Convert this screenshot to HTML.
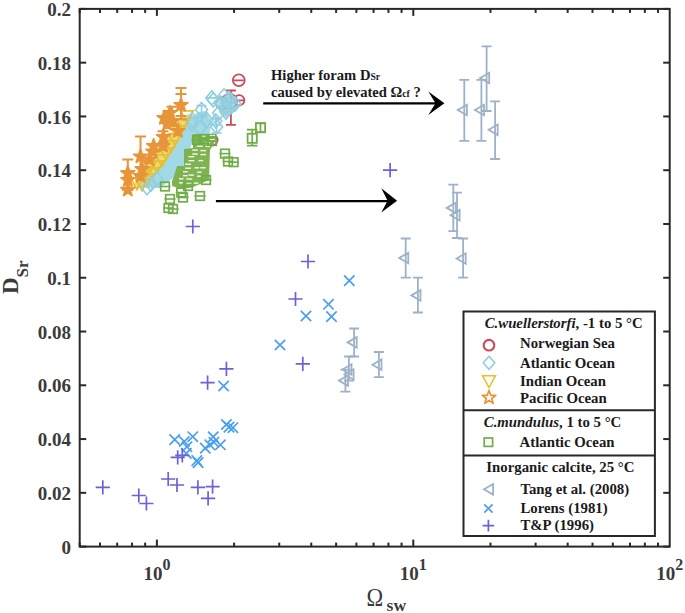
<!DOCTYPE html>
<html><head><meta charset="utf-8"><style>
html,body{margin:0;padding:0;background:#fff;}
svg{display:block;}
text{font-family:"Liberation Serif",serif;font-weight:bold;}
.tk{font-size:19px;fill:#3a3a3a;}
.al{fill:#3a3a3a;}
.an{font-size:14.6px;fill:#1a1a1a;}
.lg{font-size:14.8px;fill:#1a1a1a;}
</style></head><body>
<svg width="685" height="613" viewBox="0 0 685 613">
<rect x="79.7" y="8.9" width="590.0" height="537.7" fill="none" stroke="#282828" stroke-width="2"/>
<line x1="79.7" y1="546.60" x2="86.2" y2="546.60" stroke="#282828" stroke-width="2"/>
<line x1="669.7" y1="546.60" x2="663.2" y2="546.60" stroke="#282828" stroke-width="2"/>
<text x="71.1" y="553.80" text-anchor="end" class="tk">0</text>
<line x1="79.7" y1="492.83" x2="86.2" y2="492.83" stroke="#282828" stroke-width="2"/>
<line x1="669.7" y1="492.83" x2="663.2" y2="492.83" stroke="#282828" stroke-width="2"/>
<text x="71.1" y="500.03" text-anchor="end" class="tk">0.02</text>
<line x1="79.7" y1="439.06" x2="86.2" y2="439.06" stroke="#282828" stroke-width="2"/>
<line x1="669.7" y1="439.06" x2="663.2" y2="439.06" stroke="#282828" stroke-width="2"/>
<text x="71.1" y="446.26" text-anchor="end" class="tk">0.04</text>
<line x1="79.7" y1="385.29" x2="86.2" y2="385.29" stroke="#282828" stroke-width="2"/>
<line x1="669.7" y1="385.29" x2="663.2" y2="385.29" stroke="#282828" stroke-width="2"/>
<text x="71.1" y="392.49" text-anchor="end" class="tk">0.06</text>
<line x1="79.7" y1="331.52" x2="86.2" y2="331.52" stroke="#282828" stroke-width="2"/>
<line x1="669.7" y1="331.52" x2="663.2" y2="331.52" stroke="#282828" stroke-width="2"/>
<text x="71.1" y="338.72" text-anchor="end" class="tk">0.08</text>
<line x1="79.7" y1="277.75" x2="86.2" y2="277.75" stroke="#282828" stroke-width="2"/>
<line x1="669.7" y1="277.75" x2="663.2" y2="277.75" stroke="#282828" stroke-width="2"/>
<text x="71.1" y="284.95" text-anchor="end" class="tk">0.1</text>
<line x1="79.7" y1="223.98" x2="86.2" y2="223.98" stroke="#282828" stroke-width="2"/>
<line x1="669.7" y1="223.98" x2="663.2" y2="223.98" stroke="#282828" stroke-width="2"/>
<text x="71.1" y="231.18" text-anchor="end" class="tk">0.12</text>
<line x1="79.7" y1="170.21" x2="86.2" y2="170.21" stroke="#282828" stroke-width="2"/>
<line x1="669.7" y1="170.21" x2="663.2" y2="170.21" stroke="#282828" stroke-width="2"/>
<text x="71.1" y="177.41" text-anchor="end" class="tk">0.14</text>
<line x1="79.7" y1="116.44" x2="86.2" y2="116.44" stroke="#282828" stroke-width="2"/>
<line x1="669.7" y1="116.44" x2="663.2" y2="116.44" stroke="#282828" stroke-width="2"/>
<text x="71.1" y="123.64" text-anchor="end" class="tk">0.16</text>
<line x1="79.7" y1="62.67" x2="86.2" y2="62.67" stroke="#282828" stroke-width="2"/>
<line x1="669.7" y1="62.67" x2="663.2" y2="62.67" stroke="#282828" stroke-width="2"/>
<text x="71.1" y="69.87" text-anchor="end" class="tk">0.18</text>
<line x1="79.7" y1="8.90" x2="86.2" y2="8.90" stroke="#282828" stroke-width="2"/>
<line x1="669.7" y1="8.90" x2="663.2" y2="8.90" stroke="#282828" stroke-width="2"/>
<text x="71.1" y="16.10" text-anchor="end" class="tk">0.2</text>
<line x1="79.70" y1="546.6" x2="79.70" y2="542.6" stroke="#282828" stroke-width="2"/>
<line x1="79.70" y1="8.9" x2="79.70" y2="12.9" stroke="#282828" stroke-width="2"/>
<line x1="100.00" y1="546.6" x2="100.00" y2="542.6" stroke="#282828" stroke-width="2"/>
<line x1="100.00" y1="8.9" x2="100.00" y2="12.9" stroke="#282828" stroke-width="2"/>
<line x1="117.17" y1="546.6" x2="117.17" y2="542.6" stroke="#282828" stroke-width="2"/>
<line x1="117.17" y1="8.9" x2="117.17" y2="12.9" stroke="#282828" stroke-width="2"/>
<line x1="132.04" y1="546.6" x2="132.04" y2="542.6" stroke="#282828" stroke-width="2"/>
<line x1="132.04" y1="8.9" x2="132.04" y2="12.9" stroke="#282828" stroke-width="2"/>
<line x1="145.15" y1="546.6" x2="145.15" y2="542.6" stroke="#282828" stroke-width="2"/>
<line x1="145.15" y1="8.9" x2="145.15" y2="12.9" stroke="#282828" stroke-width="2"/>
<line x1="156.89" y1="546.6" x2="156.89" y2="539.6" stroke="#282828" stroke-width="2"/>
<line x1="156.89" y1="8.9" x2="156.89" y2="15.9" stroke="#282828" stroke-width="2"/>
<line x1="234.07" y1="546.6" x2="234.07" y2="542.6" stroke="#282828" stroke-width="2"/>
<line x1="234.07" y1="8.9" x2="234.07" y2="12.9" stroke="#282828" stroke-width="2"/>
<line x1="279.22" y1="546.6" x2="279.22" y2="542.6" stroke="#282828" stroke-width="2"/>
<line x1="279.22" y1="8.9" x2="279.22" y2="12.9" stroke="#282828" stroke-width="2"/>
<line x1="311.26" y1="546.6" x2="311.26" y2="542.6" stroke="#282828" stroke-width="2"/>
<line x1="311.26" y1="8.9" x2="311.26" y2="12.9" stroke="#282828" stroke-width="2"/>
<line x1="336.11" y1="546.6" x2="336.11" y2="542.6" stroke="#282828" stroke-width="2"/>
<line x1="336.11" y1="8.9" x2="336.11" y2="12.9" stroke="#282828" stroke-width="2"/>
<line x1="356.41" y1="546.6" x2="356.41" y2="542.6" stroke="#282828" stroke-width="2"/>
<line x1="356.41" y1="8.9" x2="356.41" y2="12.9" stroke="#282828" stroke-width="2"/>
<line x1="373.58" y1="546.6" x2="373.58" y2="542.6" stroke="#282828" stroke-width="2"/>
<line x1="373.58" y1="8.9" x2="373.58" y2="12.9" stroke="#282828" stroke-width="2"/>
<line x1="388.44" y1="546.6" x2="388.44" y2="542.6" stroke="#282828" stroke-width="2"/>
<line x1="388.44" y1="8.9" x2="388.44" y2="12.9" stroke="#282828" stroke-width="2"/>
<line x1="401.56" y1="546.6" x2="401.56" y2="542.6" stroke="#282828" stroke-width="2"/>
<line x1="401.56" y1="8.9" x2="401.56" y2="12.9" stroke="#282828" stroke-width="2"/>
<line x1="413.29" y1="546.6" x2="413.29" y2="539.6" stroke="#282828" stroke-width="2"/>
<line x1="413.29" y1="8.9" x2="413.29" y2="15.9" stroke="#282828" stroke-width="2"/>
<line x1="490.48" y1="546.6" x2="490.48" y2="542.6" stroke="#282828" stroke-width="2"/>
<line x1="490.48" y1="8.9" x2="490.48" y2="12.9" stroke="#282828" stroke-width="2"/>
<line x1="535.63" y1="546.6" x2="535.63" y2="542.6" stroke="#282828" stroke-width="2"/>
<line x1="535.63" y1="8.9" x2="535.63" y2="12.9" stroke="#282828" stroke-width="2"/>
<line x1="567.67" y1="546.6" x2="567.67" y2="542.6" stroke="#282828" stroke-width="2"/>
<line x1="567.67" y1="8.9" x2="567.67" y2="12.9" stroke="#282828" stroke-width="2"/>
<line x1="592.51" y1="546.6" x2="592.51" y2="542.6" stroke="#282828" stroke-width="2"/>
<line x1="592.51" y1="8.9" x2="592.51" y2="12.9" stroke="#282828" stroke-width="2"/>
<line x1="612.82" y1="546.6" x2="612.82" y2="542.6" stroke="#282828" stroke-width="2"/>
<line x1="612.82" y1="8.9" x2="612.82" y2="12.9" stroke="#282828" stroke-width="2"/>
<line x1="629.98" y1="546.6" x2="629.98" y2="542.6" stroke="#282828" stroke-width="2"/>
<line x1="629.98" y1="8.9" x2="629.98" y2="12.9" stroke="#282828" stroke-width="2"/>
<line x1="644.85" y1="546.6" x2="644.85" y2="542.6" stroke="#282828" stroke-width="2"/>
<line x1="644.85" y1="8.9" x2="644.85" y2="12.9" stroke="#282828" stroke-width="2"/>
<line x1="657.97" y1="546.6" x2="657.97" y2="542.6" stroke="#282828" stroke-width="2"/>
<line x1="657.97" y1="8.9" x2="657.97" y2="12.9" stroke="#282828" stroke-width="2"/>
<text x="143.39" y="579.5" class="tk">10<tspan font-size="16" dy="-9.5">0</tspan></text>
<text x="399.79" y="579.5" class="tk">10<tspan font-size="16" dy="-9.5">1</tspan></text>
<text x="656.20" y="579.5" class="tk">10<tspan font-size="16" dy="-9.5">2</tspan></text>
<text transform="translate(18.2,294) rotate(-90)" class="al" font-size="23">D<tspan font-size="17" dy="10">Sr</tspan></text>
<text transform="translate(366.6,605.8) scale(0.88,1)" class="al" font-size="25.5" style="font-weight:normal">Ω</text>
<text x="386.6" y="610.7" class="al" font-size="17.6">sw</text>
<circle cx="238.8" cy="80.3" r="5.9" stroke="#cc4a5a" stroke-width="1.8" fill="none"/>
<circle cx="222.1" cy="103.3" r="6" stroke="#cc4a5a" stroke-width="1.8" fill="none"/>
<circle cx="229.5" cy="101.3" r="7.5" stroke="#cc4a5a" stroke-width="1.8" fill="none"/>
<circle cx="239.2" cy="100.3" r="5.2" stroke="#cc4a5a" stroke-width="1.8" fill="none"/>
<circle cx="212.0" cy="140.0" r="5.6" stroke="#cc4a5a" stroke-width="1.8" fill="none"/>
<circle cx="189.6" cy="170.0" r="5.6" stroke="#cc4a5a" stroke-width="1.8" fill="none"/>
<path d="M230.9 90.5V124.8M225.9 90.5H235.9M225.9 124.8H235.9" stroke="#cc4a5a" stroke-width="1.8" fill="none"/>
<path d="M238.8 80.3V80.3M233.8 80.3H243.8M233.8 80.3H243.8" stroke="#cc4a5a" stroke-width="1.8" fill="none"/>
<path d="M239.2 100.3V100.3M234.2 100.3H244.2M234.2 100.3H244.2" stroke="#cc4a5a" stroke-width="1.8" fill="none"/>
<polygon points="189,114 188.5,120 184,130 181,137 173.7,144.5 170.4,151 166.3,158 161,164.4 157,169 152.3,174 149,182 145,188 134,188 136,180 142,170 150,160 157,152 163,144 170,134 178,124 183,116" fill="#eed873"/>
<polygon points="198,112 206,111 211,121 210,134 194,137 190,149 184,166 177,175 168,182 160,188 145,188 149,182 152.3,174 157,169 161,164.4 166.3,158 170.4,151 173.7,144.5 181,137 184,130 188.5,120" fill="#a2d9e7"/>
<polygon points="229,90 238,100 234,111 227,118 219,112 218,103" fill="#8fcfe0" opacity="0.8"/>
<path d="M211.8 90.7L217.8 97.9L211.8 105.1L205.8 97.9Z" stroke="#8fcfe0" stroke-width="1.6" fill="none"/>
<path d="M229.5 92.2L235.5 99.4L229.5 106.6L223.5 99.4Z" stroke="#8fcfe0" stroke-width="1.6" fill="none"/>
<path d="M226.5 100.0L232.5 107.2L226.5 114.4L220.5 107.2Z" stroke="#8fcfe0" stroke-width="1.6" fill="none"/>
<path d="M232.4 98.0L238.4 105.2L232.4 112.4L226.4 105.2Z" stroke="#8fcfe0" stroke-width="1.6" fill="none"/>
<path d="M218.7 105.8L224.7 113.0L218.7 120.2L212.7 113.0Z" stroke="#8fcfe0" stroke-width="1.6" fill="none"/>
<path d="M215.8 113.7L221.8 120.9L215.8 128.1L209.8 120.9Z" stroke="#8fcfe0" stroke-width="1.6" fill="none"/>
<path d="M224.0 88.8L230.0 96.0L224.0 103.2L218.0 96.0Z" stroke="#8fcfe0" stroke-width="1.6" fill="none"/>
<path d="M235.0 96.8L241.0 104.0L235.0 111.2L229.0 104.0Z" stroke="#8fcfe0" stroke-width="1.6" fill="none"/>
<path d="M201.5 102.5L207.5 109.7L201.5 116.9L195.5 109.7Z" stroke="#8fcfe0" stroke-width="1.6" fill="none"/>
<path d="M213.3 92.7L219.3 99.9L213.3 107.1L207.3 99.9Z" stroke="#8fcfe0" stroke-width="1.6" fill="none"/>
<path d="M220.7 96.0L226.7 103.2L220.7 110.4L214.7 103.2Z" stroke="#8fcfe0" stroke-width="1.6" fill="none"/>
<path d="M216.6 119.6L222.6 126.8L216.6 134.0L210.6 126.8Z" stroke="#8fcfe0" stroke-width="1.6" fill="none"/>
<path d="M207.0 112.8L213.0 120.0L207.0 127.2L201.0 120.0Z" stroke="#8fcfe0" stroke-width="1.6" fill="none"/>
<path d="M200.0 120.8L206.0 128.0L200.0 135.2L194.0 128.0Z" stroke="#8fcfe0" stroke-width="1.6" fill="none"/>
<path d="M192.0 116.8L198.0 124.0L192.0 131.2L186.0 124.0Z" stroke="#8fcfe0" stroke-width="1.6" fill="none"/>
<path d="M226.0 104.8L232.0 112.0L226.0 119.2L220.0 112.0Z" stroke="#8fcfe0" stroke-width="1.6" fill="none"/>
<path d="M201.5 105.6V117.0M196.5 105.6H206.5M196.5 117.0H206.5" stroke="#8fcfe0" stroke-width="1.6" fill="none"/>
<path d="M216.6 118.7V133.0M211.6 118.7H221.6M211.6 133.0H221.6" stroke="#8fcfe0" stroke-width="1.6" fill="none"/>
<path d="M215.8 118.0V125.0M210.8 118.0H220.8M210.8 125.0H220.8" stroke="#8fcfe0" stroke-width="1.6" fill="none"/>
<path d="M211.8 97.9V97.9M206.8 97.9H216.8M206.8 97.9H216.8" stroke="#8fcfe0" stroke-width="1.6" fill="none"/>
<path d="M226.5 104.0V112.0M221.5 104.0H231.5M221.5 112.0H231.5" stroke="#8fcfe0" stroke-width="1.6" fill="none"/>
<path d="M180.6 110.8H193.4L187.0 122.6Z" stroke="#e6c02e" stroke-width="1.8" fill="none"/>
<path d="M176.6 118.8H189.4L183.0 130.6Z" stroke="#e6c02e" stroke-width="1.8" fill="none"/>
<path d="M172.6 125.8H185.4L179.0 137.6Z" stroke="#e6c02e" stroke-width="1.8" fill="none"/>
<path d="M168.6 133.8H181.4L175.0 145.6Z" stroke="#e6c02e" stroke-width="1.8" fill="none"/>
<path d="M164.6 140.8H177.4L171.0 152.6Z" stroke="#e6c02e" stroke-width="1.8" fill="none"/>
<path d="M159.6 147.8H172.4L166.0 159.6Z" stroke="#e6c02e" stroke-width="1.8" fill="none"/>
<path d="M155.6 154.8H168.4L162.0 166.6Z" stroke="#e6c02e" stroke-width="1.8" fill="none"/>
<path d="M150.6 160.8H163.4L157.0 172.6Z" stroke="#e6c02e" stroke-width="1.8" fill="none"/>
<path d="M145.6 167.8H158.4L152.0 179.6Z" stroke="#e6c02e" stroke-width="1.8" fill="none"/>
<path d="M140.6 173.8H153.4L147.0 185.6Z" stroke="#e6c02e" stroke-width="1.8" fill="none"/>
<path d="M135.6 178.8H148.4L142.0 190.6Z" stroke="#e6c02e" stroke-width="1.8" fill="none"/>
<path d="M130.6 177.8H143.4L137.0 189.6Z" stroke="#e6c02e" stroke-width="1.8" fill="none"/>
<path d="M143.6 160.8H156.4L150.0 172.6Z" stroke="#e6c02e" stroke-width="1.8" fill="none"/>
<path d="M139.6 166.8H152.4L146.0 178.6Z" stroke="#e6c02e" stroke-width="1.8" fill="none"/>
<path d="M151.0 176.8L157.0 184.0L151.0 191.2L145.0 184.0Z" stroke="#8fcfe0" stroke-width="1.6" fill="none"/>
<path d="M147.0 180.3L153.0 187.5L147.0 194.7L141.0 187.5Z" stroke="#8fcfe0" stroke-width="1.6" fill="none"/>
<path d="M157.0 171.8L163.0 179.0L157.0 186.2L151.0 179.0Z" stroke="#8fcfe0" stroke-width="1.6" fill="none"/>
<path d="M192.0 112.8L198.0 120.0L192.0 127.2L186.0 120.0Z" stroke="#8fcfe0" stroke-width="1.6" fill="none"/>
<path d="M181.0 88.0V116.0M175.5 88.0H186.5M175.5 116.0H186.5" stroke="#e8953a" stroke-width="2" fill="none"/>
<path d="M181.0 94.0V119.5M175.5 94.0H186.5M175.5 119.5H186.5" stroke="#e8953a" stroke-width="2" fill="none"/>
<path d="M172.0 106.7V126.0M166.5 106.7H177.5M166.5 126.0H177.5" stroke="#e8953a" stroke-width="2" fill="none"/>
<path d="M163.0 131.2V143.0M157.5 131.2H168.5M157.5 143.0H168.5" stroke="#e8953a" stroke-width="2" fill="none"/>
<path d="M140.5 136.5V176.0M135.0 136.5H146.0M135.0 176.0H146.0" stroke="#e8953a" stroke-width="2" fill="none"/>
<path d="M127.8 159.5V190.0M122.3 159.5H133.3M122.3 190.0H133.3" stroke="#e8953a" stroke-width="2" fill="none"/>
<polygon points="181.0,97.8 182.7,102.7 187.8,102.8 183.7,105.9 185.2,110.8 181.0,107.9 176.8,110.8 178.3,105.9 174.2,102.8 179.3,102.7" stroke="#e8953a" stroke-width="1.8" fill="#e8953a" stroke-linejoin="round"/>
<polygon points="164.0,110.8 165.7,115.7 170.8,115.8 166.7,118.9 168.2,123.8 164.0,120.9 159.8,123.8 161.3,118.9 157.2,115.8 162.3,115.7" stroke="#e8953a" stroke-width="1.8" fill="#e8953a" stroke-linejoin="round"/>
<polygon points="170.0,105.8 171.7,110.7 176.8,110.8 172.7,113.9 174.2,118.8 170.0,115.9 165.8,118.8 167.3,113.9 163.2,110.8 168.3,110.7" stroke="#e8953a" stroke-width="1.8" fill="#e8953a" stroke-linejoin="round"/>
<polygon points="173.0,113.8 174.7,118.7 179.8,118.8 175.7,121.9 177.2,126.8 173.0,123.9 168.8,126.8 170.3,121.9 166.2,118.8 171.3,118.7" stroke="#e8953a" stroke-width="1.8" fill="#e8953a" stroke-linejoin="round"/>
<polygon points="167.0,116.8 168.7,121.7 173.8,121.8 169.7,124.9 171.2,129.8 167.0,126.9 162.8,129.8 164.3,124.9 160.2,121.8 165.3,121.7" stroke="#e8953a" stroke-width="1.8" fill="#e8953a" stroke-linejoin="round"/>
<polygon points="178.0,123.8 179.7,128.7 184.8,128.8 180.7,131.9 182.2,136.8 178.0,133.9 173.8,136.8 175.3,131.9 171.2,128.8 176.3,128.7" stroke="#e8953a" stroke-width="1.8" fill="#e8953a" stroke-linejoin="round"/>
<polygon points="163.4,129.8 165.1,134.7 170.2,134.8 166.1,137.9 167.6,142.8 163.4,139.9 159.2,142.8 160.7,137.9 156.6,134.8 161.7,134.7" stroke="#e8953a" stroke-width="1.8" fill="#e8953a" stroke-linejoin="round"/>
<polygon points="163.0,138.8 164.7,143.7 169.8,143.8 165.7,146.9 167.2,151.8 163.0,148.9 158.8,151.8 160.3,146.9 156.2,143.8 161.3,143.7" stroke="#e8953a" stroke-width="1.8" fill="#e8953a" stroke-linejoin="round"/>
<polygon points="153.6,138.8 155.3,143.7 160.4,143.8 156.3,146.9 157.8,151.8 153.6,148.9 149.4,151.8 150.9,146.9 146.8,143.8 151.9,143.7" stroke="#e8953a" stroke-width="1.8" fill="#e8953a" stroke-linejoin="round"/>
<polygon points="152.8,144.4 154.5,149.3 159.6,149.4 155.5,152.5 157.0,157.4 152.8,154.5 148.6,157.4 150.1,152.5 146.0,149.4 151.1,149.3" stroke="#e8953a" stroke-width="1.8" fill="#e8953a" stroke-linejoin="round"/>
<polygon points="140.5,149.3 142.2,154.2 147.3,154.3 143.2,157.4 144.7,162.3 140.5,159.4 136.3,162.3 137.8,157.4 133.7,154.3 138.8,154.2" stroke="#e8953a" stroke-width="1.8" fill="#e8953a" stroke-linejoin="round"/>
<polygon points="149.4,152.3 151.1,157.2 156.2,157.3 152.1,160.4 153.6,165.3 149.4,162.4 145.2,165.3 146.7,160.4 142.6,157.3 147.7,157.2" stroke="#e8953a" stroke-width="1.8" fill="#e8953a" stroke-linejoin="round"/>
<polygon points="127.8,166.0 129.5,170.9 134.6,171.0 130.5,174.1 132.0,179.0 127.8,176.1 123.6,179.0 125.1,174.1 121.0,171.0 126.1,170.9" stroke="#e8953a" stroke-width="1.8" fill="#e8953a" stroke-linejoin="round"/>
<polygon points="127.8,172.8 129.5,177.7 134.6,177.8 130.5,180.9 132.0,185.8 127.8,182.9 123.6,185.8 125.1,180.9 121.0,177.8 126.1,177.7" stroke="#e8953a" stroke-width="1.8" fill="#e8953a" stroke-linejoin="round"/>
<polygon points="127.8,182.6 129.5,187.5 134.6,187.6 130.5,190.7 132.0,195.6 127.8,192.7 123.6,195.6 125.1,190.7 121.0,187.6 126.1,187.5" stroke="#e8953a" stroke-width="1.8" fill="#e8953a" stroke-linejoin="round"/>
<polygon points="140.5,168.9 142.2,173.8 147.3,173.9 143.2,177.0 144.7,181.9 140.5,179.0 136.3,181.9 137.8,177.0 133.7,173.9 138.8,173.8" stroke="#e8953a" stroke-width="1.8" fill="#e8953a" stroke-linejoin="round"/>
<polygon points="142.0,161.8 143.7,166.7 148.8,166.8 144.7,169.9 146.2,174.8 142.0,171.9 137.8,174.8 139.3,169.9 135.2,166.8 140.3,166.7" stroke="#e8953a" stroke-width="1.8" fill="#e8953a" stroke-linejoin="round"/>
<polygon points="193,134 216,134 217,138 210,150 209,180 198,185 190,188 178,188 172,186 172,181 174,176 177,166 184,166 184,149 193,148" fill="#7db451"/>
<rect x="199.9" y="135.3" width="5.4" height="1.4" fill="#fff" opacity="0.9"/>
<rect x="209.7" y="135.0" width="5.3" height="1.4" fill="#fff" opacity="0.9"/>
<rect x="209.7" y="139.0" width="5.3" height="1.4" fill="#fff" opacity="0.9"/>
<rect x="196.7" y="145.6" width="6.0" height="1.4" fill="#fff" opacity="0.9"/>
<rect x="205.6" y="141.7" width="4.6" height="1.4" fill="#fff" opacity="0.9"/>
<rect x="205.6" y="145.7" width="4.6" height="1.4" fill="#fff" opacity="0.9"/>
<rect x="192.2" y="149.4" width="5.6" height="1.4" fill="#fff" opacity="0.9"/>
<rect x="192.2" y="153.4" width="5.6" height="1.4" fill="#fff" opacity="0.9"/>
<rect x="200.4" y="149.9" width="5.6" height="1.4" fill="#fff" opacity="0.9"/>
<rect x="200.4" y="153.9" width="5.6" height="1.4" fill="#fff" opacity="0.9"/>
<rect x="188.5" y="156.0" width="5.9" height="1.4" fill="#fff" opacity="0.9"/>
<rect x="188.5" y="160.0" width="5.9" height="1.4" fill="#fff" opacity="0.9"/>
<rect x="198.3" y="159.9" width="4.9" height="1.4" fill="#fff" opacity="0.9"/>
<rect x="185.1" y="163.5" width="5.9" height="1.4" fill="#fff" opacity="0.9"/>
<rect x="185.1" y="167.5" width="5.9" height="1.4" fill="#fff" opacity="0.9"/>
<rect x="194.6" y="167.1" width="4.5" height="1.4" fill="#fff" opacity="0.9"/>
<rect x="200.2" y="167.1" width="5.5" height="1.4" fill="#fff" opacity="0.9"/>
<rect x="183.0" y="171.0" width="4.7" height="1.4" fill="#fff" opacity="0.9"/>
<rect x="183.0" y="175.0" width="4.7" height="1.4" fill="#fff" opacity="0.9"/>
<rect x="188.6" y="174.4" width="5.2" height="1.4" fill="#fff" opacity="0.9"/>
<rect x="197.0" y="171.5" width="4.6" height="1.4" fill="#fff" opacity="0.9"/>
<rect x="197.0" y="175.5" width="4.6" height="1.4" fill="#fff" opacity="0.9"/>
<rect x="179.0" y="178.1" width="4.5" height="1.4" fill="#fff" opacity="0.9"/>
<rect x="179.0" y="182.1" width="4.5" height="1.4" fill="#fff" opacity="0.9"/>
<rect x="186.4" y="178.3" width="5.9" height="1.4" fill="#fff" opacity="0.9"/>
<rect x="186.4" y="182.3" width="5.9" height="1.4" fill="#fff" opacity="0.9"/>
<rect x="193.6" y="182.4" width="4.8" height="1.4" fill="#fff" opacity="0.9"/>
<rect x="220.7" y="149.3" width="8.6" height="8.6" stroke="#70ad48" stroke-width="1.7" fill="none"/>
<path d="M219.5 153.6H230.5" stroke="#70ad48" stroke-width="1.6"/>
<rect x="223.7" y="157.2" width="8.6" height="8.6" stroke="#70ad48" stroke-width="1.7" fill="none"/>
<path d="M222.5 161.5H233.5" stroke="#70ad48" stroke-width="1.6"/>
<rect x="229.3" y="157.9" width="8.6" height="8.6" stroke="#70ad48" stroke-width="1.7" fill="none"/>
<path d="M228.1 162.2H239.1" stroke="#70ad48" stroke-width="1.6"/>
<rect x="160.7" y="182.2" width="8.6" height="8.6" stroke="#70ad48" stroke-width="1.7" fill="none"/>
<path d="M159.5 186.5H170.5" stroke="#70ad48" stroke-width="1.6"/>
<rect x="176.9" y="188.2" width="8.6" height="8.6" stroke="#70ad48" stroke-width="1.7" fill="none"/>
<path d="M175.7 192.5H186.7" stroke="#70ad48" stroke-width="1.6"/>
<rect x="178.7" y="193.2" width="8.6" height="8.6" stroke="#70ad48" stroke-width="1.7" fill="none"/>
<path d="M177.5 197.5H188.5" stroke="#70ad48" stroke-width="1.6"/>
<rect x="165.7" y="194.7" width="8.6" height="8.6" stroke="#70ad48" stroke-width="1.7" fill="none"/>
<path d="M164.5 199.0H175.5" stroke="#70ad48" stroke-width="1.6"/>
<rect x="195.7" y="191.7" width="8.6" height="8.6" stroke="#70ad48" stroke-width="1.7" fill="none"/>
<path d="M194.5 196.0H205.5" stroke="#70ad48" stroke-width="1.6"/>
<rect x="164.2" y="203.7" width="8.6" height="8.6" stroke="#70ad48" stroke-width="1.7" fill="none"/>
<path d="M163.0 208.0H174.0" stroke="#70ad48" stroke-width="1.6"/>
<rect x="168.7" y="204.7" width="8.6" height="8.6" stroke="#70ad48" stroke-width="1.7" fill="none"/>
<path d="M167.5 209.0H178.5" stroke="#70ad48" stroke-width="1.6"/>
<rect x="199.7" y="134.7" width="8.6" height="8.6" stroke="#70ad48" stroke-width="1.7" fill="none"/>
<path d="M198.5 139.0H209.5" stroke="#70ad48" stroke-width="1.6"/>
<rect x="207.7" y="136.7" width="8.6" height="8.6" stroke="#70ad48" stroke-width="1.7" fill="none"/>
<path d="M206.5 141.0H217.5" stroke="#70ad48" stroke-width="1.6"/>
<rect x="192.7" y="135.7" width="8.6" height="8.6" stroke="#70ad48" stroke-width="1.7" fill="none"/>
<path d="M191.5 140.0H202.5" stroke="#70ad48" stroke-width="1.6"/>
<rect x="201.7" y="175.7" width="8.6" height="8.6" stroke="#70ad48" stroke-width="1.7" fill="none"/>
<path d="M200.5 180.0H211.5" stroke="#70ad48" stroke-width="1.6"/>
<rect x="183.7" y="181.7" width="8.6" height="8.6" stroke="#70ad48" stroke-width="1.7" fill="none"/>
<path d="M182.5 186.0H193.5" stroke="#70ad48" stroke-width="1.6"/>
<rect x="247.6" y="133.7" width="9.2" height="9.2" stroke="#70ad48" stroke-width="1.8" fill="none"/>
<path d="M252.2 129.7V145.7M246.9 129.7H257.5M246.9 145.7H257.5" stroke="#70ad48" stroke-width="1.7" fill="none"/>
<rect x="255.9" y="123.1" width="9.2" height="9.2" stroke="#70ad48" stroke-width="1.8" fill="none"/>
<path d="M260.5 123.4V132.0M255.2 123.4H265.8M255.2 132.0H265.8" stroke="#70ad48" stroke-width="1.7" fill="none"/>
<path d="M464.3 79.8V140.8M459.3 79.8H469.3M459.3 140.8H469.3" stroke="#9db2c9" stroke-width="1.8" fill="none"/>
<path d="M457.8 110.0L466.9 104.7V115.3Z" stroke="#9db2c9" stroke-width="1.8" fill="none" stroke-linejoin="miter"/>
<path d="M486.6 46.4V111.0M481.6 46.4H491.6M481.6 111.0H491.6" stroke="#9db2c9" stroke-width="1.8" fill="none"/>
<path d="M480.1 78.0L489.2 72.7V83.3Z" stroke="#9db2c9" stroke-width="1.8" fill="none" stroke-linejoin="miter"/>
<path d="M481.4 79.8V140.8M476.4 79.8H486.4M476.4 140.8H486.4" stroke="#9db2c9" stroke-width="1.8" fill="none"/>
<path d="M474.9 110.0L484.0 104.7V115.3Z" stroke="#9db2c9" stroke-width="1.8" fill="none" stroke-linejoin="miter"/>
<path d="M495.1 101.3V159.0M490.1 101.3H500.1M490.1 159.0H500.1" stroke="#9db2c9" stroke-width="1.8" fill="none"/>
<path d="M488.6 129.8L497.7 124.5V135.1Z" stroke="#9db2c9" stroke-width="1.8" fill="none" stroke-linejoin="miter"/>
<path d="M453.3 184.7V231.1M448.3 184.7H458.3M448.3 231.1H458.3" stroke="#9db2c9" stroke-width="1.8" fill="none"/>
<path d="M446.8 207.9L455.9 202.6V213.2Z" stroke="#9db2c9" stroke-width="1.8" fill="none" stroke-linejoin="miter"/>
<path d="M457.0 192.7V238.0M452.0 192.7H462.0M452.0 238.0H462.0" stroke="#9db2c9" stroke-width="1.8" fill="none"/>
<path d="M450.5 215.2L459.6 209.9V220.5Z" stroke="#9db2c9" stroke-width="1.8" fill="none" stroke-linejoin="miter"/>
<path d="M463.1 238.5V277.6M458.1 238.5H468.1M458.1 277.6H468.1" stroke="#9db2c9" stroke-width="1.8" fill="none"/>
<path d="M456.6 258.5L465.7 253.2V263.8Z" stroke="#9db2c9" stroke-width="1.8" fill="none" stroke-linejoin="miter"/>
<path d="M405.7 238.5V277.6M400.7 238.5H410.7M400.7 277.6H410.7" stroke="#9db2c9" stroke-width="1.8" fill="none"/>
<path d="M399.2 258.0L408.3 252.7V263.3Z" stroke="#9db2c9" stroke-width="1.8" fill="none" stroke-linejoin="miter"/>
<path d="M417.9 277.6V312.5M412.9 277.6H422.9M412.9 312.5H422.9" stroke="#9db2c9" stroke-width="1.8" fill="none"/>
<path d="M411.4 295.4L420.5 290.1V300.7Z" stroke="#9db2c9" stroke-width="1.8" fill="none" stroke-linejoin="miter"/>
<path d="M354.1 328.5V356.5M349.1 328.5H359.1M349.1 356.5H359.1" stroke="#9db2c9" stroke-width="1.8" fill="none"/>
<path d="M347.6 342.4L356.7 337.1V347.7Z" stroke="#9db2c9" stroke-width="1.8" fill="none" stroke-linejoin="miter"/>
<path d="M378.9 352.0V377.1M373.9 352.0H383.9M373.9 377.1H383.9" stroke="#9db2c9" stroke-width="1.8" fill="none"/>
<path d="M372.4 364.7L381.5 359.4V370.0Z" stroke="#9db2c9" stroke-width="1.8" fill="none" stroke-linejoin="miter"/>
<path d="M348.9 356.5V380.6M343.9 356.5H353.9M343.9 380.6H353.9" stroke="#9db2c9" stroke-width="1.8" fill="none"/>
<path d="M342.4 369.5L351.5 364.2V374.8Z" stroke="#9db2c9" stroke-width="1.8" fill="none" stroke-linejoin="miter"/>
<path d="M345.4 369.6V391.7M340.4 369.6H350.4M340.4 391.7H350.4" stroke="#9db2c9" stroke-width="1.8" fill="none"/>
<path d="M338.9 380.6L348.0 375.3V385.9Z" stroke="#9db2c9" stroke-width="1.8" fill="none" stroke-linejoin="miter"/>
<path d="M344.5 374.5L353.6 369.2V379.8Z" stroke="#9db2c9" stroke-width="1.8" fill="none" stroke-linejoin="miter"/>
<path d="M344.1 275.4L354.5 285.8M344.1 285.8L354.5 275.4" stroke="#4a9ff0" stroke-width="1.7" fill="none"/>
<path d="M323.3 299.1L333.7 309.5M323.3 309.5L333.7 299.1" stroke="#4a9ff0" stroke-width="1.7" fill="none"/>
<path d="M300.8 310.8L311.2 321.2M300.8 321.2L311.2 310.8" stroke="#4a9ff0" stroke-width="1.7" fill="none"/>
<path d="M326.3 311.4L336.7 321.8M326.3 321.8L336.7 311.4" stroke="#4a9ff0" stroke-width="1.7" fill="none"/>
<path d="M274.8 339.8L285.2 350.2M274.8 350.2L285.2 339.8" stroke="#4a9ff0" stroke-width="1.7" fill="none"/>
<path d="M218.4 380.8L228.8 391.2M218.4 391.2L228.8 380.8" stroke="#4a9ff0" stroke-width="1.7" fill="none"/>
<path d="M169.5 434.4L179.9 444.8M169.5 444.8L179.9 434.4" stroke="#4a9ff0" stroke-width="1.7" fill="none"/>
<path d="M179.1 436.3L189.5 446.7M179.1 446.7L189.5 436.3" stroke="#4a9ff0" stroke-width="1.7" fill="none"/>
<path d="M187.6 431.5L198.0 441.9M187.6 441.9L198.0 431.5" stroke="#4a9ff0" stroke-width="1.7" fill="none"/>
<path d="M181.7 441.6L192.1 452.0M181.7 452.0L192.1 441.6" stroke="#4a9ff0" stroke-width="1.7" fill="none"/>
<path d="M181.1 448.2L191.5 458.6M181.1 458.6L191.5 448.2" stroke="#4a9ff0" stroke-width="1.7" fill="none"/>
<path d="M191.6 455.4L202.0 465.8M191.6 465.8L202.0 455.4" stroke="#4a9ff0" stroke-width="1.7" fill="none"/>
<path d="M192.9 457.4L203.3 467.8M192.9 467.8L203.3 457.4" stroke="#4a9ff0" stroke-width="1.7" fill="none"/>
<path d="M200.1 442.9L210.5 453.3M200.1 453.3L210.5 442.9" stroke="#4a9ff0" stroke-width="1.7" fill="none"/>
<path d="M204.7 439.6L215.1 450.0M204.7 450.0L215.1 439.6" stroke="#4a9ff0" stroke-width="1.7" fill="none"/>
<path d="M208.0 431.7L218.4 442.1M208.0 442.1L218.4 431.7" stroke="#4a9ff0" stroke-width="1.7" fill="none"/>
<path d="M208.7 437.0L219.1 447.4M208.7 447.4L219.1 437.0" stroke="#4a9ff0" stroke-width="1.7" fill="none"/>
<path d="M215.2 439.6L225.6 450.0M215.2 450.0L225.6 439.6" stroke="#4a9ff0" stroke-width="1.7" fill="none"/>
<path d="M221.2 419.3L231.6 429.7M221.2 429.7L231.6 419.3" stroke="#4a9ff0" stroke-width="1.7" fill="none"/>
<path d="M223.8 421.9L234.2 432.3M223.8 432.3L234.2 421.9" stroke="#4a9ff0" stroke-width="1.7" fill="none"/>
<path d="M227.7 422.5L238.1 432.9M227.7 432.9L238.1 422.5" stroke="#4a9ff0" stroke-width="1.7" fill="none"/>
<path d="M300.9 261.5H315.1M308.0 254.4V268.6" stroke="#6a62d8" stroke-width="1.7" fill="none"/>
<path d="M288.4 299.0H302.6M295.5 291.9V306.1" stroke="#6a62d8" stroke-width="1.7" fill="none"/>
<path d="M295.7 363.8H309.9M302.8 356.7V370.9" stroke="#6a62d8" stroke-width="1.7" fill="none"/>
<path d="M219.3 368.9H233.5M226.4 361.8V376.0" stroke="#6a62d8" stroke-width="1.7" fill="none"/>
<path d="M200.5 382.7H214.7M207.6 375.6V389.8" stroke="#6a62d8" stroke-width="1.7" fill="none"/>
<path d="M170.6 457.3H184.8M177.7 450.2V464.4" stroke="#6a62d8" stroke-width="1.7" fill="none"/>
<path d="M175.2 455.3H189.4M182.3 448.2V462.4" stroke="#6a62d8" stroke-width="1.7" fill="none"/>
<path d="M95.7 487.4H109.9M102.8 480.3V494.5" stroke="#6a62d8" stroke-width="1.7" fill="none"/>
<path d="M131.7 495.5H145.9M138.8 488.4V502.6" stroke="#6a62d8" stroke-width="1.7" fill="none"/>
<path d="M139.3 503.5H153.5M146.4 496.4V510.6" stroke="#6a62d8" stroke-width="1.7" fill="none"/>
<path d="M161.1 479.0H175.3M168.2 471.9V486.1" stroke="#6a62d8" stroke-width="1.7" fill="none"/>
<path d="M169.9 485.0H184.1M177.0 477.9V492.1" stroke="#6a62d8" stroke-width="1.7" fill="none"/>
<path d="M190.8 487.3H205.0M197.9 480.2V494.4" stroke="#6a62d8" stroke-width="1.7" fill="none"/>
<path d="M205.5 486.7H219.7M212.6 479.6V493.8" stroke="#6a62d8" stroke-width="1.7" fill="none"/>
<path d="M201.0 498.4H215.2M208.1 491.3V505.5" stroke="#6a62d8" stroke-width="1.7" fill="none"/>
<path d="M185.7 226.5H199.9M192.8 219.4V233.6" stroke="#6a62d8" stroke-width="1.7" fill="none"/>
<path d="M383.0 170.1H397.2M390.1 163.0V177.2" stroke="#6a62d8" stroke-width="1.7" fill="none"/>
<line x1="263.2" y1="103.4" x2="436" y2="103.4" stroke="#000" stroke-width="2.2"/>
<path d="M444.4 103.3L428.3 91.5L435.5 103.3L428.3 115.1Z" fill="#000"/>
<line x1="215.9" y1="201.1" x2="388" y2="201.1" stroke="#000" stroke-width="2.1"/>
<path d="M397.1 200.8L381.3 188.3L387.6 200.8L381.3 212.6Z" fill="#000"/>
<text x="271" y="79.7" class="an">Higher foram D<tspan font-size="9.6">Sr</tspan></text>
<text x="271" y="96.8" class="an">caused by elevated Ω<tspan font-size="9.8">cf</tspan> ?</text>
<rect x="463.5" y="311.5" width="191.39999999999998" height="224.5" fill="#fff" stroke="#282828" stroke-width="2"/>
<line x1="463.5" y1="410.2" x2="654.9" y2="410.2" stroke="#282828" stroke-width="2"/>
<line x1="463.5" y1="455.6" x2="654.9" y2="455.6" stroke="#282828" stroke-width="2"/>
<text x="484.7" y="328.4" class="lg"><tspan font-style="italic">C.wuellerstorfi</tspan>, -1 to 5 °C</text>
<circle cx="489.0" cy="345.2" r="5.3" stroke="#cc4a5a" stroke-width="2.1" fill="none"/>
<text x="520" y="348.1" class="lg">Norwegian Sea</text>
<path d="M489.0 356.4L494.8 362.8L489.0 369.2L483.2 362.8Z" stroke="#8fcfe0" stroke-width="1.6" fill="none"/>
<text x="520" y="367.8" class="lg">Atlantic Ocean</text>
<path d="M482.6 375.8H495.4L489.0 387.6Z" stroke="#e6c02e" stroke-width="1.6" fill="none"/>
<text x="520" y="385.7" class="lg">Indian Ocean</text>
<polygon points="489.0,390.4 490.7,395.3 495.8,395.4 491.7,398.5 493.2,403.4 489.0,400.5 484.8,403.4 486.3,398.5 482.2,395.4 487.3,395.3" stroke="#e8953a" stroke-width="1.7" fill="none" stroke-linejoin="round"/>
<text x="520" y="403.3" class="lg">Pacific Ocean</text>
<text x="483.8" y="427.1" class="lg"><tspan font-style="italic">C.mundulus</tspan>, 1 to 5 °C</text>
<rect x="484.2" y="438.0" width="8.4" height="8.4" stroke="#70ad48" stroke-width="1.7" fill="none"/>
<text x="519.6" y="446.8" class="lg">Atlantic Ocean</text>
<text x="486.3" y="472.3" class="lg">Inorganic calcite, 25 °C</text>
<path d="M484.0 489.3L493.1 484.0V494.6Z" stroke="#9db2c9" stroke-width="1.8" fill="none" stroke-linejoin="miter"/>
<text x="520.4" y="493.6" class="lg">Tang et al. (2008)</text>
<path d="M484.2 504.3L492.6 512.7M484.2 512.7L492.6 504.3" stroke="#4a9ff0" stroke-width="1.7" fill="none"/>
<text x="520.4" y="512.5" class="lg">Lorens (1981)</text>
<path d="M482.6 525.6H494.2M488.4 519.8V531.4" stroke="#6a62d8" stroke-width="1.7" fill="none"/>
<text x="520.4" y="529.5" class="lg">T&amp;P (1996)</text>
</svg>
</body></html>
